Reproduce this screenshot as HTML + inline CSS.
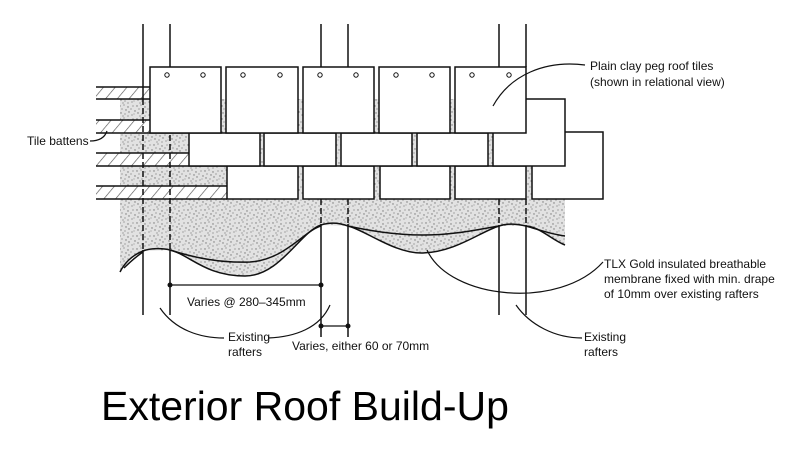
<!DOCTYPE html>
<html><head><meta charset="utf-8"><style>
html,body{margin:0;padding:0;background:#fff;}
svg{display:block;}
.t{font-family:"Liberation Sans Narrow","Liberation Sans",sans-serif;font-size:12px;fill:#111;}
</style></head><body>
<svg width="800" height="463" viewBox="0 0 800 463" xmlns="http://www.w3.org/2000/svg">
<defs>
<pattern id="st" width="17" height="13" patternUnits="userSpaceOnUse">
<rect width="17" height="13" fill="#e2e2e2"/>
<g fill="#777">
<circle cx="1" cy="2" r=".7"/><circle cx="5" cy="1" r=".6"/><circle cx="9" cy="3" r=".7"/><circle cx="14" cy="2" r=".6"/>
<circle cx="3" cy="5" r=".6"/><circle cx="7" cy="6" r=".7"/><circle cx="12" cy="5" r=".6"/><circle cx="16" cy="7" r=".7"/>
<circle cx="2" cy="9" r=".7"/><circle cx="6" cy="10" r=".6"/><circle cx="10" cy="8" r=".7"/><circle cx="13" cy="11" r=".6"/>
<circle cx="4" cy="12" r=".6"/><circle cx="9" cy="12" r=".6"/><circle cx="15" cy="10" r=".5"/>
</g>
</pattern>
<pattern id="hx" width="9" height="9" patternUnits="userSpaceOnUse" patternTransform="rotate(40)">
<rect width="9" height="9" fill="#fff"/><line x1="0" y1="0" x2="0" y2="9" stroke="#555" stroke-width="1.3"/>
</pattern>
</defs>
<g stroke="#111" fill="none" stroke-width="1.5">
<!-- stipple -->
<path d="M120,99 L565,99 L565,245 C552,240 540,227 526,226 L499,226 C480,232 455,252 423,253 C395,254 365,230 348,226 L321,225 C300,232 280,276 245,276 C205,276 190,255 170,250 L143,251 C133,255 125,262 120,272 Z" fill="url(#st)" stroke="none"/>
<!-- battens -->
<g stroke="none">
<rect x="96" y="87" width="54" height="12" fill="url(#hx)"/>
<rect x="96" y="120" width="54" height="13" fill="url(#hx)"/>
<rect x="96" y="153" width="93" height="13" fill="url(#hx)"/>
<rect x="96" y="186" width="131" height="13" fill="url(#hx)"/>
</g>
<path d="M96,87H150M96,99H150M96,120H150M96,133H189M96,153H189M96,166H227M96,186H227M96,199H227" stroke-width="1.4"/>
<!-- rafters -->
<path d="M143,24V99M170,24V99M321,24V67M348,24V67M499,24V67M526,24V67"/>
<path d="M143,99V250M170,99V250M321,199V224M348,199V224M499,199V225M526,199V225" stroke-dasharray="6,3"/>
<path d="M143,250V315M170,250V315M321,224V337M348,224V337M499,225V315M526,225V315"/>
<!-- membrane lower (stipple edge) -->
<path d="M120,272 C125,262 133,255 143,251 C150,248 163,248 170,250 C190,255 205,276 245,276 C280,276 300,232 321,225 C330,222 340,223 348,226 C365,230 395,254 423,253 C455,252 480,232 499,226 C508,223 518,224 526,226 C540,227 552,240 565,245"/>
<!-- membrane upper -->
<path d="M124,268 C130,262 137,256 143,252 M170,250 C195,258 220,263 250,262 C285,260 305,230 321,226 M348,226 C375,232 400,235 423,235 C455,235 480,229 499,226 M526,226 C540,230 550,234 565,236"/>
<!-- tiles -->
<g fill="#fff">
<rect x="532" y="132" width="71" height="67"/>
<rect x="227" y="166" width="71" height="33"/><rect x="303" y="166" width="71" height="33"/><rect x="380" y="166" width="70" height="33"/><rect x="455" y="166" width="71" height="33"/>
<rect x="493" y="99" width="72" height="67"/>
<rect x="189" y="133" width="71" height="33"/><rect x="264" y="133" width="72" height="33"/><rect x="341" y="133" width="71" height="33"/><rect x="417" y="133" width="71" height="33"/>
<rect x="150" y="67" width="71" height="66"/><rect x="226" y="67" width="72" height="66"/><rect x="303" y="67" width="71" height="66"/><rect x="379" y="67" width="71" height="66"/><rect x="455" y="67" width="71" height="66"/>
</g>
<g stroke-width="1">
<circle cx="167" cy="75" r="2.2"/><circle cx="203" cy="75" r="2.2"/><circle cx="243" cy="75" r="2.2"/><circle cx="280" cy="75" r="2.2"/>
<circle cx="320" cy="75" r="2.2"/><circle cx="356" cy="75" r="2.2"/><circle cx="396" cy="75" r="2.2"/><circle cx="432" cy="75" r="2.2"/>
<circle cx="472" cy="75" r="2.2"/><circle cx="509" cy="75" r="2.2"/>
</g>
<!-- dimensions -->
<path d="M170,285H321M321,326H348" stroke-width="1.3"/>
<g fill="#111" stroke="none"><circle cx="170" cy="285" r="2.5"/><circle cx="321" cy="285" r="2.5"/><circle cx="321" cy="326" r="2.5"/><circle cx="348" cy="326" r="2.5"/></g>
<!-- leaders -->
<g stroke-width="1.2">
<path d="M90,141 C100,141 105,137 107,131"/>
<path d="M493,106 C510,75 545,60 585,65"/>
<path d="M160,308 C175,330 200,338 224,338"/>
<path d="M268,338 C295,337 320,328 330,305"/>
<path d="M427,250 C450,300 560,310 603,262"/>
<path d="M516,305 C530,325 555,338 582,338"/>
</g>
</g>
<g class="t">
<text x="27" y="145">Tile battens</text>
<text x="590" y="70">Plain clay peg roof tiles</text>
<text x="590" y="86">(shown in relational view)</text>
<text x="187" y="306">Varies @ 280–345mm</text>
<text x="228" y="341">Existing</text>
<text x="228" y="356">rafters</text>
<text x="292" y="350">Varies, either 60 or 70mm</text>
<text x="604" y="268">TLX Gold insulated breathable</text>
<text x="604" y="283">membrane fixed with min. drape</text>
<text x="604" y="298">of 10mm over existing rafters</text>
<text x="584" y="341">Existing</text>
<text x="584" y="356">rafters</text>
</g>
<text x="101" y="420" font-family="Liberation Sans, sans-serif" font-size="41" fill="#000">Exterior Roof Build-Up</text>
</svg>
</body></html>
